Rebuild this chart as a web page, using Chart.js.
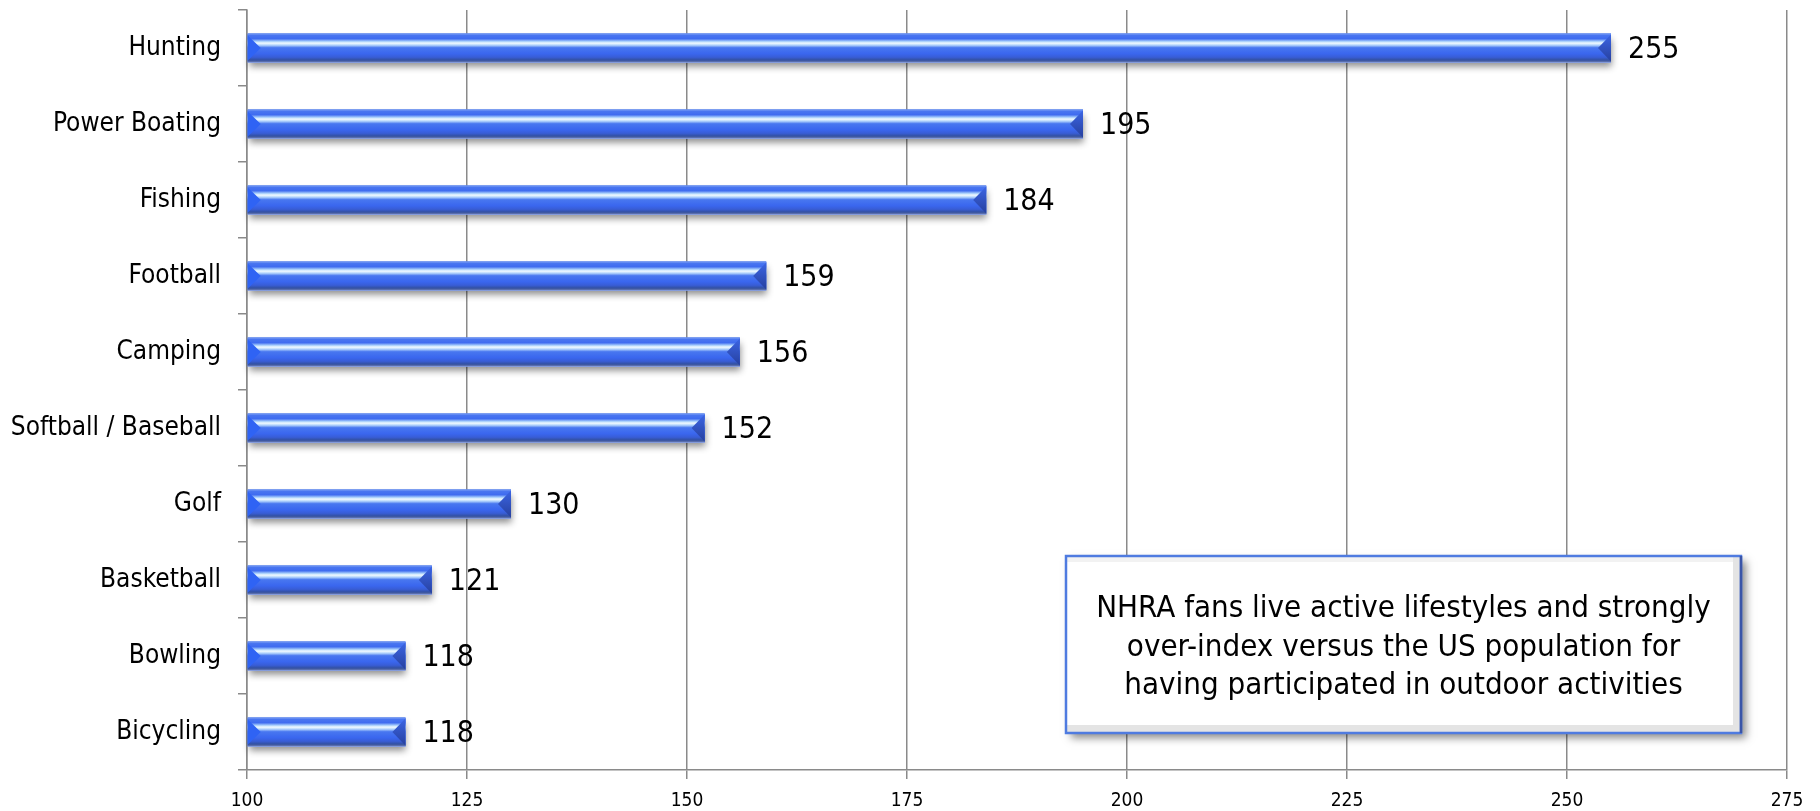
<!DOCTYPE html>
<html>
<head>
<meta charset="utf-8">
<script src="https://cdn.jsdelivr.net/npm/chart.js@4.4.0/dist/chart.umd.min.js"></script>
<style>
html, body { margin: 0; padding: 0; background: #fff; }
#wrap { width: 1820px; height: 811px; position: relative; }
</style>
</head>
<body>
<div id="wrap"><canvas id="activities"></canvas></div>
<script>
var activities = ['Hunting', 'Power Boating', 'Fishing', 'Football', 'Camping', 'Softball / Baseball', 'Golf', 'Basketball', 'Bowling', 'Bicycling'];
var indexValues = [255, 195, 184, 159, 156, 152, 130, 121, 118, 118];
var axisMin = 100;
var axisMax = 275;
var axisStep = 25;
var noteLines = [
    'NHRA fans live active lifestyles and strongly',
    'over-index versus the US population for',
    'having participated in outdoor activities'
];

var FONT = "'DejaVu Sans Condensed', 'DejaVu Sans', sans-serif";

// 3d-ish bevelled bars, drawn over the library's bars
var bevelBars = {
    id: 'bevelBars',
    beforeDatasetsDraw: function (chart) {
        var ctx = chart.ctx;
        chart.getDatasetMeta(0).data.forEach(function (bar) {
            var top = bar.y - bar.height / 2;
            ctx.save();
            ctx.shadowColor = 'rgba(0,0,0,0.45)';
            ctx.shadowBlur = 7;
            ctx.shadowOffsetX = 1;
            ctx.shadowOffsetY = 5;
            ctx.fillStyle = '#3a5fd0';
            ctx.fillRect(bar.base, top, bar.x - bar.base, bar.height);
            ctx.restore();
        });
    },
    afterDatasetsDraw: function (chart) {
        var ctx = chart.ctx;
        chart.getDatasetMeta(0).data.forEach(function (bar, i) {
            var x0 = bar.base, x1 = bar.x;
            var h = bar.height;
            var top = bar.y - h / 2, bot = bar.y + h / 2, mid = bar.y;
            var bv = Math.min(13, (x1 - x0) / 2);

            var g = ctx.createLinearGradient(0, top, 0, bot);
            g.addColorStop(0, '#8fb0f8');
            g.addColorStop(0.05, '#4a76f0');
            g.addColorStop(0.18, '#3f6cf0');
            g.addColorStop(0.27, '#a8cffb');
            g.addColorStop(0.33, '#f2fbff');
            g.addColorStop(0.4, '#b4d5fc');
            g.addColorStop(0.49, '#4877f0');
            g.addColorStop(0.7, '#3a66ee');
            g.addColorStop(0.82, '#385dd6');
            g.addColorStop(0.92, '#33509f');
            g.addColorStop(0.97, '#5a6fae');
            g.addColorStop(1, '#c0cbe6');
            ctx.fillStyle = g;
            ctx.fillRect(x0, top, x1 - x0, h);

            // left bevel
            ctx.fillStyle = '#2f63f4';
            ctx.beginPath();
            ctx.moveTo(x0, top + 2);
            ctx.lineTo(x0 + bv, mid);
            ctx.lineTo(x0, bot - 2);
            ctx.closePath();
            ctx.fill();

            // right bevel
            var gr = ctx.createLinearGradient(0, top, 0, bot);
            gr.addColorStop(0, '#3c66e6');
            gr.addColorStop(1, '#263f9c');
            ctx.fillStyle = gr;
            ctx.beginPath();
            ctx.moveTo(x1, top + 1);
            ctx.lineTo(x1 - bv, mid);
            ctx.lineTo(x1, bot - 1);
            ctx.closePath();
            ctx.fill();

            // value label
            ctx.fillStyle = '#000';
            ctx.font = '30px ' + FONT;
            ctx.textAlign = 'left';
            ctx.textBaseline = 'middle';
            ctx.fillText(String(indexValues[i]), x1 + 17, mid + 2);
        });
    }
};

// text box in the lower right
var noteBox = {
    id: 'noteBox',
    afterDraw: function (chart) {
        var ctx = chart.ctx;
        var bx = 1066, by = 556, bw = 675, bh = 177;
        ctx.save();
        ctx.shadowColor = 'rgba(0,0,0,0.45)';
        ctx.shadowBlur = 8;
        ctx.shadowOffsetX = 5;
        ctx.shadowOffsetY = 5;
        ctx.fillStyle = '#fff';
        ctx.fillRect(bx, by, bw, bh);
        ctx.restore();

        // inner bevel
        ctx.fillStyle = '#f2f2f2';
        ctx.fillRect(bx, by, bw, 6);
        ctx.fillStyle = '#e4e4e4';
        ctx.fillRect(bx + bw - 8, by, 8, bh);
        ctx.fillRect(bx, by + bh - 8, bw, 8);
        ctx.fillStyle = '#fff';
        ctx.fillRect(bx + 3, by + 6, bw - 11, bh - 14);

        ctx.strokeStyle = '#4f7be0';
        ctx.lineWidth = 2.5;
        ctx.strokeRect(bx, by, bw, bh);
        ctx.strokeStyle = '#3a55a8';
        ctx.beginPath();
        ctx.moveTo(bx + bw, by);
        ctx.lineTo(bx + bw, by + bh);
        ctx.stroke();

        ctx.fillStyle = '#000';
        ctx.font = '31px ' + FONT;
        ctx.textAlign = 'center';
        ctx.textBaseline = 'middle';
        noteLines.forEach(function (line, k) {
            ctx.fillText(line, bx + bw / 2, by + 53 + k * 38.5);
        });
    }
};

var ctx = document.getElementById('activities').getContext('2d');
var chart = new Chart(ctx, {
    type: 'bar',
    data: {
        labels: activities,
        datasets: [{
            label: 'Index vs US population',
            data: indexValues,
            base: axisMin,
            backgroundColor: '#3b68ea',
            borderWidth: 0,
            barPercentage: 0.38,
            categoryPercentage: 1.0
        }]
    },
    options: {
        indexAxis: 'y',
        responsive: true,
        maintainAspectRatio: false,
        animation: false,
        layout: {
            padding: { top: 10, right: 33, bottom: 0, left: 0 }
        },
        scales: {
            x: {
                min: axisMin,
                max: axisMax,
                afterFit: function (scale) { scale.height = 41; },
                ticks: {
                    stepSize: axisStep,
                    color: '#000',
                    padding: 11,
                    font: { family: FONT, size: 19 }
                },
                grid: {
                    color: '#8a8a8a',
                    lineWidth: 1.5,
                    tickLength: 9
                },
                border: { color: '#8a8a8a', width: 1.5 }
            },
            y: {
                afterFit: function (scale) {
                    scale.width = 247;
                    scale.paddingTop = 0;
                    scale.paddingBottom = 0;
                },
                ticks: {
                    color: '#000',
                    padding: 17,
                    font: { family: FONT, size: 26 }
                },
                grid: {
                    drawOnChartArea: false,
                    color: '#8a8a8a',
                    lineWidth: 1.5,
                    tickLength: 9
                },
                border: { color: '#8a8a8a', width: 1.5 }
            }
        },
        plugins: {
            legend: { display: false },
            tooltip: { enabled: false }
        }
    },
    plugins: [bevelBars, noteBox]
});
</script>
</body>
</html>
